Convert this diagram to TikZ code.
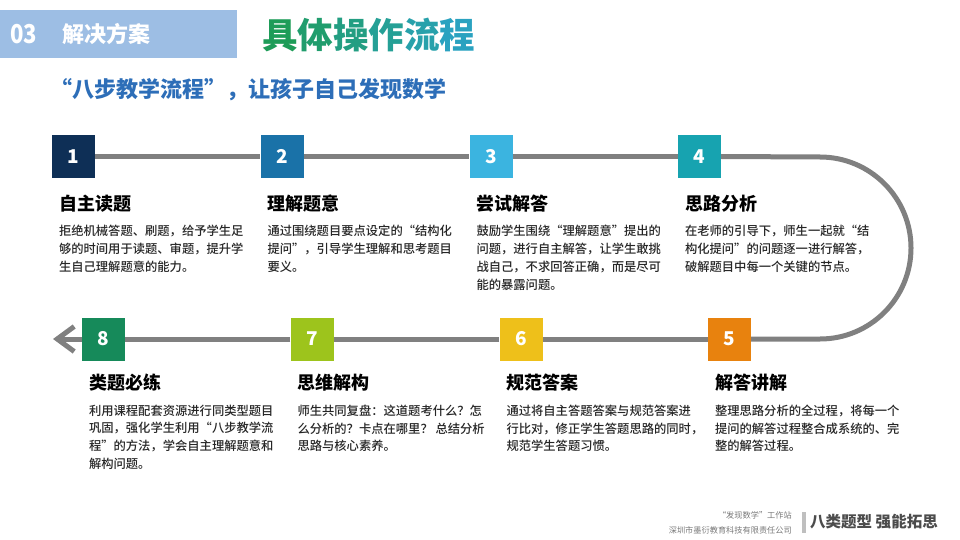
\documentclass[tikz,border=0pt]{standalone}
\usepackage{fontspec}
\setmainfont{Noto Sans CJK SC}[BoldFont={Noto Sans CJK SC Bold}]
\newfontfamily\heavy{Noto Sans CJK SC Black}
\newfontfamily\medium{Noto Sans CJK SC Medium}
\usetikzlibrary{arrows.meta, positioning, calc}
\definecolor{BannerBlue}{RGB}{157, 190, 228}
\definecolor{TitleGreen}{RGB}{30, 156, 88}
\definecolor{TitleTeal}{RGB}{42, 162, 192}
\definecolor{SubBlue}{RGB}{45, 110, 184}
\definecolor{TrackGray}{RGB}{128, 128, 128}
\definecolor{StepA}{RGB}{14, 47, 86}
\definecolor{StepB}{RGB}{26, 114, 168}
\definecolor{StepC}{RGB}{59, 180, 224}
\definecolor{StepD}{RGB}{23, 163, 176}
\definecolor{StepE}{RGB}{232, 130, 14}
\definecolor{StepF}{RGB}{238, 192, 26}
\definecolor{StepG}{RGB}{157, 196, 28}
\definecolor{StepH}{RGB}{22, 138, 90}
\definecolor{FootGray}{RGB}{120, 120, 120}

\begin{document}
\begin{tikzpicture}[
    x=1pt, y=-1pt,
    stepbox/.style={rectangle, minimum size=43pt, inner sep=0pt, text=white, font=\fontsize{19}{19}\selectfont\heavy},
    head/.style={inner sep=0pt, anchor=west, text=black, font=\fontsize{18}{20}\selectfont\heavy},
    body/.style={inner sep=0pt, anchor=north west, align=left, text=black!85, font=\fontsize{12.3}{17.7}\selectfont\medium},
    track/.style={draw=TrackGray, line width=5pt},
    foot/.style={inner sep=0pt, text=FootGray, font=\fontsize{8.2}{15}\selectfont}
  ]
    \useasboundingbox (0,0) rectangle (960,540);

    % Header
    \fill[BannerBlue] (0,10) rectangle (237,58);
    \node[anchor=west, inner sep=0pt, text=white, font=\fontsize{26}{26}\selectfont\heavy, xscale=0.85] (sec) at (10,34) {03};
    \node[anchor=west, inner sep=0pt, text=white, font=\fontsize{22}{22}\selectfont\heavy] (part) at (62,34) {解决方案};
    \node[anchor=west, inner sep=0pt, font=\fontsize{35.5}{36}\selectfont\heavy] (title) at (262,35)
      {\color{TitleGreen}具\color{TitleGreen!80!TitleTeal}体\color{TitleGreen!60!TitleTeal}操\color{TitleGreen!40!TitleTeal}作\color{TitleGreen!20!TitleTeal}流\color{TitleTeal}程};
    \node[anchor=west, inner sep=0pt, text=SubBlue, font=\fontsize{22}{22}\selectfont\heavy] (sub) at (50,90) {“八步教学流程”，让孩子自己发现数学};

    % Step boxes, top row
    \node[stepbox, fill=StepA] (s1) at (73.5,156.5) {1};
    \node[stepbox, fill=StepB] (s2) at (282,156.5) {2};
    \node[stepbox, fill=StepC] (s3) at (491,156.5) {3};
    \node[stepbox, fill=StepD] (s4) at (699.5,156.5) {4};

    % Step boxes, bottom row
    \node[stepbox, fill=StepE] (s5) at (729.5,339) {5};
    \node[stepbox, fill=StepF] (s6) at (521,339) {6};
    \node[stepbox, fill=StepG] (s7) at (312,339) {7};
    \node[stepbox, fill=StepH] (s8) at (103.5,339) {8};

    % Track
    \coordinate (bendtop) at (820,157);
    \coordinate (tip) at (53,339);
    \draw[track] (s1) -- (s2);
    \draw[track] (s2) -- (s3);
    \draw[track] (s3) -- (s4);
    \draw[track] (s4.east) -- (bendtop) arc[start angle=90, end angle=-90, radius=91pt] -- (s5.east);
    \draw[track] (s5) -- (s6);
    \draw[track] (s6) -- (s7);
    \draw[track] (s7) -- (s8);
    \draw[track, -{Straight Barb[length=17pt, width=25pt]}] (s8) -- (tip);

    % Headings and texts, top row
    \node[head] (h1) at ([xshift=7pt, yshift=-25pt]s1.south west) {自主读题};
    \node[body] (t1) at ([xshift=7pt, yshift=-47pt]s1.south west) {拒绝机械答题、刷题，给予学生足\\够的时间用于读题、审题，提升学\\生自己理解题意的能力。};

    \node[head] (h2) at ([xshift=7pt, yshift=-25pt]s2.south west) {理解题意};
    \node[body] (t2) at ([xshift=7pt, yshift=-47pt]s2.south west) {通过围绕题目要点设定的“结构化\\提问”，引导学生理解和思考题目\\要义。};

    \node[head] (h3) at ([xshift=7pt, yshift=-25pt]s3.south west) {尝试解答};
    \node[body] (t3) at ([xshift=7pt, yshift=-47pt]s3.south west) {鼓励学生围绕“理解题意”提出的\\问题，进行自主解答，让学生敢挑\\战自己，不求回答正确，而是尽可\\能的暴露问题。};

    \node[head] (h4) at ([xshift=7pt, yshift=-25pt]s4.south west) {思路分析};
    \node[body] (t4) at ([xshift=7pt, yshift=-47pt]s4.south west) {在老师的引导下，师生一起就“结\\构化提问”的问题逐一进行解答，\\破解题目中每一个关键的节点。};

    % Headings and texts, bottom row
    \node[head] (h5) at ([xshift=7pt, yshift=-22pt]s5.south west) {解答讲解};
    \node[body] (t5) at ([xshift=7pt, yshift=-44pt]s5.south west) {整理思路分析的全过程，将每一个\\提问的解答过程整合成系统的、完\\整的解答过程。};

    \node[head] (h6) at ([xshift=7pt, yshift=-22pt]s6.south west) {规范答案};
    \node[body] (t6) at ([xshift=7pt, yshift=-44pt]s6.south west) {通过将自主答题答案与规范答案进\\行比对，修正学生答题思路的同时，\\规范学生答题习惯。};

    \node[head] (h7) at ([xshift=7pt, yshift=-22pt]s7.south west) {思维解构};
    \node[body] (t7) at ([xshift=7pt, yshift=-44pt]s7.south west) {师生共同复盘：这道题考什么？怎\\么分析的？卡点在哪里？ 总结分析\\思路与核心素养。};

    \node[head] (h8) at ([xshift=7pt, yshift=-22pt]s8.south west) {类题必练};
    \node[body] (t8) at ([xshift=7pt, yshift=-44pt]s8.south west) {利用课程配套资源进行同类型题目\\巩固，强化学生利用“八步教学流\\程”的方法，学会自主理解题意和\\解构问题。};

    % Footer
    \node[foot, anchor=east] (f1) at (792,515) {“发现数学”工作站};
    \node[foot, anchor=east] (f2) at (792,530) {深圳市墨衍教育科技有限责任公司};
    \fill[black!25] (802,512) rectangle (806,533);
    \node[anchor=west, inner sep=0pt, text=black!70, font=\fontsize{15.5}{16}\selectfont\heavy] (slogan) at (810,522) {八类题型 强能拓思};
\end{tikzpicture}
\end{document}
